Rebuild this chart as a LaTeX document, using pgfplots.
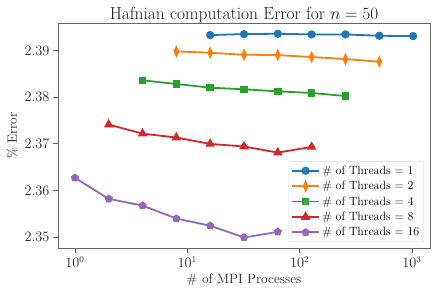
\documentclass[border=0pt]{standalone}
\usepackage{pgfplots}
\pgfplotsset{compat=1.18}
\usetikzlibrary{plotmarks}
\definecolor{c0}{HTML}{1F77B4}
\definecolor{c1}{HTML}{FF7F0E}
\definecolor{c2}{HTML}{2CA02C}
\definecolor{c3}{HTML}{D62728}
\definecolor{c4}{HTML}{9467BD}
\begin{document}
\begin{tikzpicture}
\useasboundingbox (-58bp,-47bp) rectangle (385bp,248bp);
\begin{axis}[
  scale only axis, width=372bp, height=224.7bp,
  xmode=log, log basis x=10,
  xmin=0.7071, xmax=1448,
  ymin=2.3477, ymax=2.3958,
  ytick={2.35,2.36,2.37,2.38,2.39},
  yticklabel style={/pgf/number format/fixed,/pgf/number format/precision=2,/pgf/number format/fixed zerofill},
  scaled y ticks=false,
  xtick={1,10,100,1000},
  tick align=outside, xtick pos=bottom, ytick pos=left,
  major tick length=5bp, minor tick length=2.5bp,
  axis line style={black!60, line width=0.8bp},
  every tick/.style={black!60, line width=0.8bp},
  tick label style={font=\fontsize{13.5}{16}\selectfont, black!85},
  label style={font=\fontsize{13.5}{16}\selectfont, black!85},
  title style={font=\fontsize{17.5}{20}\selectfont, black!90, yshift=-9bp},
  title={Hafnian computation Error for $n=50$},
  xlabel={\# of MPI Processes},
  ylabel={\% Error},
  legend cell align=left,
  legend style={at={(1,0)}, anchor=south east, xshift=-6bp, yshift=6bp,
    font=\fontsize{12}{14}\selectfont, draw=black!15, fill=white, fill opacity=0.8, text opacity=1,
    rounded corners=2bp, row sep=1.5bp, inner sep=2.5bp},
  legend image code/.code={\draw[mark repeat=2,mark phase=2] plot coordinates {(0bp,0bp) (13.5bp,0bp) (27bp,0bp)};},
  every axis plot/.append style={line width=1.8bp, mark size=3.2bp},
]
\addplot[c0, mark=*, mark options={solid,fill=c0}] coordinates {
(16,2.39328) (32,2.39349) (64,2.39356) (128,2.39342) (256,2.39342) (512,2.39313) (1024,2.39306)};
\addlegendentry{\# of Threads = 1}
\addplot[c1, mark=diamond*, mark options={solid,fill=c1,xscale=0.6,scale=1.3}] coordinates {
(8,2.38979) (16,2.38950) (32,2.38907) (64,2.38900) (128,2.38858) (256,2.38815) (512,2.38758)};
\addlegendentry{\# of Threads = 2}
\addplot[c2, mark=square*, mark options={solid,fill=c2,scale=0.9}] coordinates {
(4,2.38359) (8,2.38281) (16,2.38202) (32,2.38167) (64,2.38124) (128,2.38088) (256,2.38024)};
\addlegendentry{\# of Threads = 4}
\addplot[c3, mark=triangle*, mark options={solid,fill=c3,scale=1.2}] coordinates {
(2,2.37412) (4,2.37219) (8,2.37134) (16,2.36999) (32,2.36942) (64,2.36813) (128,2.36934)};
\addlegendentry{\# of Threads = 8}
\addplot[c4, mark=pentagon*, mark options={solid,fill=c4,scale=1.0}] coordinates {
(1,2.36272) (2,2.35823) (4,2.35677) (8,2.35400) (16,2.35247) (32,2.34995) (64,2.35115)};
\addlegendentry{\# of Threads = 16}
\end{axis}
\end{tikzpicture}
\end{document}
